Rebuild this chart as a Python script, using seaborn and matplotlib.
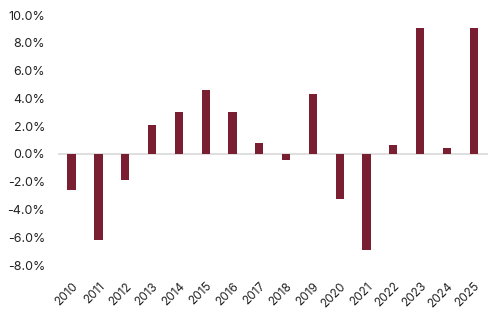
import matplotlib
matplotlib.use("Agg")
import matplotlib.pyplot as plt
import seaborn as sns
import pandas as pd

years = ["2010", "2011", "2012", "2013", "2014", "2015", "2016", "2017",
         "2018", "2019", "2020", "2021", "2022", "2023", "2024", "2025"]
values = [-2.6, -6.2, -1.9, 2.1, 3.0, 4.6, 3.05, 0.8,
          -0.45, 4.3, -3.25, -6.95, 0.65, 9.05, 0.45, 9.05]
yticks = [10, 8, 6, 4, 2, 0, -2, -4, -6, -8]

sns.set_theme(style="white")
plt.rcParams["font.family"] = ["Inter", "DejaVu Sans"]

df = pd.DataFrame({"year": years, "value": values})

fig = plt.figure(figsize=(5, 3.2), dpi=100)
ax = fig.add_axes([57.7 / 500, (320 - 265) / 320, 430 / 500, 250 / 320])
sns.barplot(data=df, x="year", y="value", color="#7a1f31", width=0.3,
            saturation=1, ax=ax)
bw = 0.31
for p in ax.patches:
    cx = p.get_x() + p.get_width() / 2
    p.set_width(bw)
    p.set_x(cx - bw / 2)
    p.set_linewidth(0)
ax.axhline(0, color="#d9d9d9", lw=1.2, zorder=0)
ax.set_xlim(-0.52, 15.52)
ax.set_ylim(-8, 10)
ax.set_yticks(yticks)
ax.set_yticklabels([f"{t:.1f}%" for t in yticks])
for s in ax.spines.values():
    s.set_visible(False)
ax.set_xlabel("")
ax.set_ylabel("")
ax.tick_params(axis="both", length=0, labelsize=9, colors="#222222")
ax.tick_params(axis="y", pad=9)
ax.tick_params(axis="x", pad=11, labelsize=8.5)
for lab in ax.get_xticklabels():
    lab.set_rotation(45)
    lab.set_ha("right")
    lab.set_rotation_mode("anchor")
fig.savefig("out.png", dpi=100)
